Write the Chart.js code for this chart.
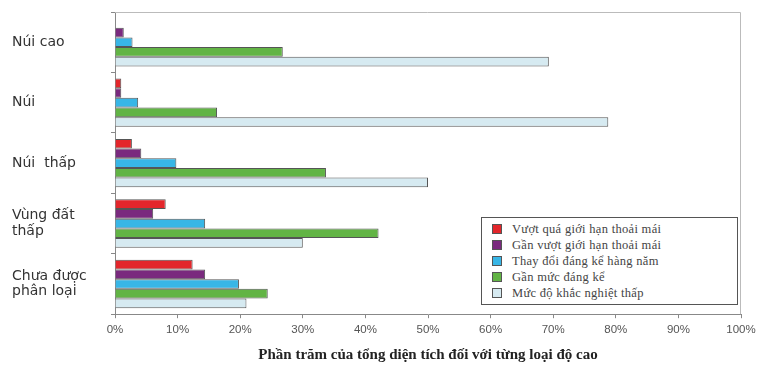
<!DOCTYPE html>
<html>
<head>
<meta charset="utf-8">
<script src="https://cdn.jsdelivr.net/npm/chart.js@4/dist/chart.umd.min.js"></script>
<style>
  html, body { margin: 0; padding: 0; background: #fff; }
  #wrap { position: relative; width: 757px; height: 367px; }
  #legend { position: absolute; left: 481px; top: 217px; width: 255px; height: 86px;
    border: 1px solid #555; background: #fff; box-sizing: content-box;
    font-family: "Liberation Serif", "DejaVu Serif", serif; font-size: 12.5px; letter-spacing: 0.3px; color: #444; }
  #legend .it { position: absolute; left: 10px; height: 14px; line-height: 14px; white-space: nowrap; }
  #legend .sw { display: inline-block; width: 8px; height: 8px; border: 1px solid #555; margin-right: 10px; vertical-align: -1px; }
</style>
</head>
<body>
<div id="wrap">
  <canvas id="cht" width="757" height="367"></canvas>
  <div id="legend"></div>
</div>
<script>
var categories = ['Núi cao', 'Núi', 'Núi  thấp', ['Vùng đất', 'thấp'], ['Chưa được', 'phân loại']];
var seriesNames = ['Vượt quá giới hạn thoải mái', 'Gần vượt giới hạn thoải mái', 'Thay đổi đáng kể hàng năm', 'Gần mức đáng kể', 'Mức độ khắc nghiệt thấp'];
var vuotQua   = [0,    1.0,  2.7,  8.1,  12.4];
var ganVuot   = [1.4,  1.0,  4.2,  6.1,  14.4];
var thayDoi   = [2.8,  3.7,  9.8,  14.4, 19.8];
var ganMuc    = [26.8, 16.3, 33.7, 42.1, 24.4];
var khacNghiet = [69.3, 78.8, 50.0, 30.0, 21.0];
var colours = ['#e3262b', '#7a2a7e', '#38b6e6', '#62b445', '#d6eaf1'];
var xTitle = 'Phần trăm của tổng diện tích đối với từng loại độ cao';

var values = [vuotQua, ganVuot, thayDoi, ganMuc, khacNghiet];
var datasets = [];
values.forEach(function (v, i) {
    datasets.push({ label: seriesNames[i], data: v, backgroundColor: colours[i], borderColor: '#555', borderWidth: 1,
        categoryPercentage: 0.8, barPercentage: 1 });
});

// legend box
var lg = document.getElementById('legend');
seriesNames.forEach(function (n, i) {
    var d = document.createElement('div');
    d.className = 'it';
    d.style.top = (4 + i * 16) + 'px';
    d.innerHTML = '<span class="sw" style="background:' + colours[i] + '"></span>' + n;
    lg.appendChild(d);
});

var frame = {
    id: 'frame',
    afterDraw: function (c) {
        var a = c.chartArea, ctx = c.ctx;
        ctx.save();
        ctx.strokeStyle = '#bbb';
        ctx.lineWidth = 1;
        ctx.beginPath();
        ctx.moveTo(a.left, a.top + 0.5);
        ctx.lineTo(a.right - 0.5, a.top + 0.5);
        ctx.lineTo(a.right - 0.5, a.bottom);
        ctx.stroke();
        ctx.restore();
    }
};

new Chart(document.getElementById('cht'), {
    type: 'bar',
    data: { labels: categories, datasets: datasets },
    plugins: [frame],
    options: {
        indexAxis: 'y',
        responsive: false,
        animation: false,
        layout: { padding: { left: 12, right: 0, top: 12, bottom: 3 } },
        plugins: { legend: { display: false }, tooltip: { enabled: false } },
        scales: {
            x: {
                min: 0, max: 100,
                afterFit: function (s) { s.paddingRight = 16; s.paddingLeft = 0; },
                ticks: { stepSize: 10, color: '#555', padding: 5, font: { family: 'Arial, "Liberation Sans", sans-serif', size: 11.5 },
                    callback: function (v) { return v + '%'; } },
                grid: { drawOnChartArea: false, color: '#888', tickLength: 4 },
                border: { color: '#888' },
                title: { display: true, text: xTitle, color: '#222', padding: { top: 4, bottom: 0 },
                    font: { family: '"Liberation Serif", "DejaVu Serif", serif', size: 15, weight: 'bold' } }
            },
            y: {
                afterFit: function (s) { s.width = 103; s.paddingTop = 0; s.paddingBottom = 0; },
                ticks: { crossAlign: 'far', color: '#333', padding: 6,
                    font: { family: '"DejaVu Sans", Arial, sans-serif', size: 14, lineHeight: 1.1 } },
                grid: { drawOnChartArea: false, offset: true, color: '#888', tickLength: 4 },
                border: { color: '#888' }
            }
        }
    }
});
</script>
</body>
</html>
